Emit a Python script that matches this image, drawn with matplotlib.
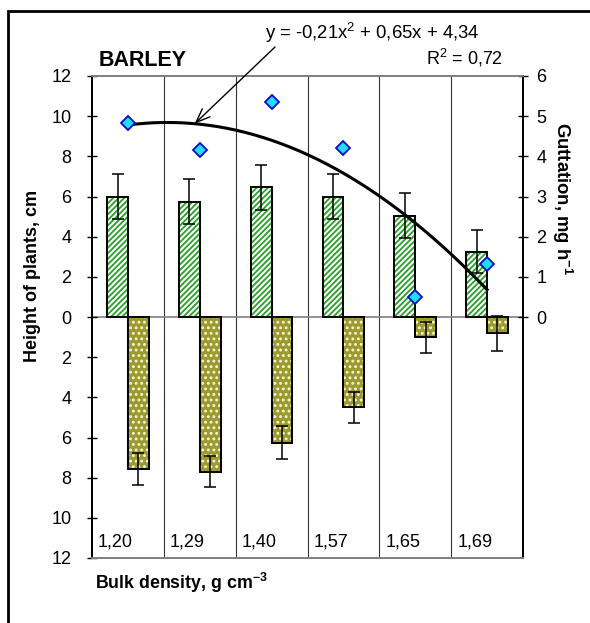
import numpy as np
import matplotlib
matplotlib.use("Agg")
import matplotlib.pyplot as plt
from matplotlib.patches import Rectangle

plt.rcParams['font.family'] = ['Liberation Sans', 'DejaVu Sans']
plt.rcParams['mathtext.fontset'] = 'custom'
plt.rcParams['mathtext.rm'] = 'Liberation Sans'
plt.rcParams['mathtext.it'] = 'Liberation Sans'
plt.rcParams['mathtext.bf'] = 'Liberation Sans:bold'
plt.rcParams['hatch.linewidth'] = 1.3

# bulk density classes
density = ['1,20', '1,29', '1,40', '1,57', '1,65', '1,69']
# bars above zero (cm) and their errors
height_up = [6.0, 5.75, 6.45, 6.0, 5.05, 3.25]
height_up_err = [1.12, 1.12, 1.12, 1.12, 1.1, 1.08]
# bars below zero (cm) and their errors
height_down = [7.55, 7.7, 6.25, 4.5, 1.0, 0.8]
height_down_err = [0.8, 0.77, 0.8, 0.78, 0.77, 0.87]
# guttation, mg h-1
guttation = [4.83, 4.15, 5.36, 4.2, 0.5, 1.32]
# quadratic trend coefficients
trend = [-0.21, 0.65, 4.34]
r2 = '0,72'

left_ticks = list(range(-12, 13, 2))
right_ticks = list(range(0, 7))

GREEN = '#27a027'
OLIVE = '#9c9a2e'


def main():
    fig = plt.figure(figsize=(5.9, 6.23), dpi=100)
    ax = fig.add_axes([92 / 590, 1 - 558 / 623, 431 / 590, 482 / 623])
    ax2 = ax.twinx()

    x = np.arange(1, len(density) + 1)
    w = 0.29

    # upper bars: white with green diagonal stripes
    ax.bar(x - w / 2, height_up, w, color='white', edgecolor='black',
           linewidth=1.3, zorder=2)
    ax.bar(x - w / 2, height_up, w, color='none', edgecolor=GREEN,
           hatch='//////', linewidth=0, zorder=2.1)
    ax.bar(x - w / 2, height_up, w, color='none', edgecolor='black',
           linewidth=1.3, zorder=2.2)
    ax.errorbar(x - w / 2, height_up, yerr=height_up_err, fmt='none',
                ecolor='black', elinewidth=1.1, capsize=4.5, capthick=1.1,
                zorder=3)

    # lower bars: olive with white dots
    neg = [-v for v in height_down]
    ax.bar(x + w / 2, neg, w, color=OLIVE, edgecolor='black',
           linewidth=1.3, zorder=2)
    ax.bar(x + w / 2, neg, w, color='none', edgecolor='#f4f4d8',
           hatch='...', linewidth=0, zorder=2.1)
    ax.bar(x + w / 2, neg, w, color='none', edgecolor='black',
           linewidth=1.3, zorder=2.2)
    ax.errorbar(x + w / 2, neg, yerr=height_down_err, fmt='none',
                ecolor='black', elinewidth=1.1, capsize=4.5, capthick=1.1,
                zorder=3)

    # class separators and zero line
    for b in x[:-1] + 0.5:
        ax.axvline(b, color='#333333', lw=0.8, zorder=1)
    ax.axhline(0, color='#808080', lw=1.2, zorder=1)

    ax.set_xlim(0.5, len(density) + 0.5)
    ax.set_ylim(-12, 12)
    ax.set_xticks([])
    ax.set_yticks(left_ticks)
    ax.set_yticklabels([str(abs(t)) for t in left_ticks])
    ax.tick_params(axis='y', direction='inout', length=7.5, width=1,
                   pad=11, labelsize=13)

    for i, lab in enumerate(density):
        ax.text(x[i] - 0.5 + 0.085, -11.2, lab, ha='left', va='center',
                fontsize=13)

    # guttation points and quadratic trend
    xs = np.linspace(1, 6, 200)
    ax2.plot(xs, np.polyval(trend, xs), color='black', lw=2.2, zorder=4)
    ax2.plot(x, guttation, 'D', markersize=7, markerfacecolor='#22dcf5',
             markeredgecolor='#0a0ac8', markeredgewidth=1.3, zorder=5)
    ax2.set_ylim(-6, 6)
    ax2.set_yticks(right_ticks)
    ax2.tick_params(axis='y', direction='inout', length=7.5, width=1,
                    pad=6, labelsize=13)

    for a in (ax, ax2):
        a.spines['top'].set_color('#808080')
        a.spines['bottom'].set_color('#808080')
        a.spines['top'].set_linewidth(1.3)
        a.spines['bottom'].set_linewidth(1.3)
        a.spines['left'].set_linewidth(1.3)
        a.spines['right'].set_linewidth(1.3)

    fig.text(33 / 590, 1 - 276 / 623, 'Height of plants, cm', rotation=90,
             ha='center', va='center', fontsize=13, fontweight='bold')
    fig.text(562 / 590, 1 - 199 / 623, r'Guttation, mg h$^{\mathbf{-1}}$',
             rotation=270, ha='center', va='center', fontsize=13.3,
             fontweight='bold')
    fig.text(95 / 590, 1 - 583 / 623, r'Bulk density, g cm$^{\mathbf{-3}}$',
             ha='left', va='center', fontsize=12.8, fontweight='bold')
    fig.text(99 / 590, 1 - 60 / 623, 'BARLEY', ha='left', va='center',
             fontsize=15.5, fontweight='bold')

    x_arrow = 1.93
    ax2.annotate(r'y = -0,21x$^{2}$ + 0,65x + 4,34',
                 xy=(x_arrow, np.polyval(trend, x_arrow)),
                 xycoords='data',
                 xytext=(372 / 590, 1 - 33 / 623),
                 textcoords='figure fraction', ha='center', va='center',
                 fontsize=13.3, annotation_clip=False)
    ax2.annotate('', xy=(x_arrow, np.polyval(trend, x_arrow)), xycoords='data',
                 xytext=(275 / 590, 1 - 47 / 623),
                 textcoords='figure fraction',
                 arrowprops=dict(arrowstyle='->,head_length=1.0,head_width=0.4',
                                 color='black', lw=1, shrinkA=0, shrinkB=0),
                 annotation_clip=False)
    fig.text(503 / 590, 1 - 58 / 623, 'R$^{2}$ = ' + r2, ha='right',
             va='center', fontsize=13)

    # chart frame, open on the right and bottom
    fig.add_artist(Rectangle((8 / 590, -0.2), 1.2, 0.2 + 1 - 10.5 / 623,
                             transform=fig.transFigure, fill=False,
                             edgecolor='black', lw=2))

    fig.savefig('out.png', dpi=100)


if __name__ == "__main__":
    main()
